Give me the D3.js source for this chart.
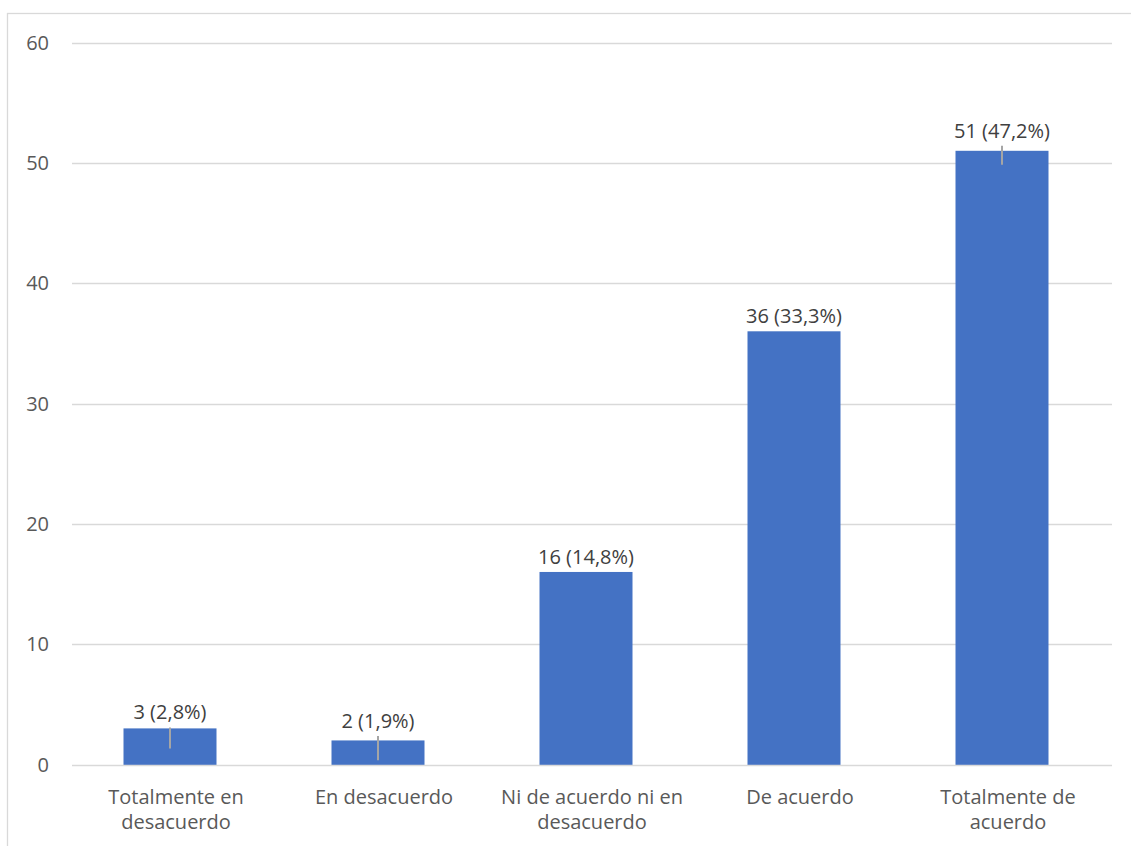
<!DOCTYPE html>
<html>
<head>
<meta charset="utf-8">
<script src="https://cdn.jsdelivr.net/npm/d3@7"></script>
<style>
  html, body { margin: 0; padding: 0; background: #ffffff; }
  svg { display: block; font-family: "Open Sans", "Noto Sans", sans-serif; }
</style>
</head>
<body>
<svg id="chart" width="1131" height="846"></svg>
<script>
// Survey responses: count per answer and its share of the total
const categories = [
  "Totalmente en desacuerdo",
  "En desacuerdo",
  "Ni de acuerdo ni en desacuerdo",
  "De acuerdo",
  "Totalmente de acuerdo"
];
const counts = [3, 2, 16, 36, 51];
const percents = ["2,8%", "1,9%", "14,8%", "33,3%", "47,2%"];
// Error bar extents below / above each count
const errMinus = [1.66, 1.64, 0, 0, 1.16];
const errPlus = [0.08, 0.36, 0, 0, 0.42];
const yTicks = [0, 10, 20, 30, 40, 50, 60];

const svg = d3.select("#chart");
const W = 1131, H = 846;
const plot = { left: 72, right: 1112, top: 42.5, bottom: 764.5 };

// Outer chart frame
svg.append("rect")
  .attr("x", 7.5).attr("y", 13.5)
  .attr("width", 1140).attr("height", 900)
  .attr("fill", "none").attr("stroke", "#d9d9d9").attr("stroke-width", 1.3);

const x = d3.scaleBand().domain(categories).range([plot.left, plot.right]);
const y = d3.scaleLinear().domain([0, 60]).range([plot.bottom, plot.top]);
const barW = 93;
const barShift = -6;
const cx = c => x(c) + x.bandwidth() / 2 + barShift;

// Horizontal gridlines
svg.append("g").selectAll("line")
  .data(yTicks.filter(t => t !== 0))
  .join("line")
  .attr("x1", plot.left).attr("x2", plot.right)
  .attr("y1", d => Math.round(y(d)) + 0.5).attr("y2", d => Math.round(y(d)) + 0.5)
  .attr("stroke", "#d9d9d9").attr("stroke-width", 1.3);

// Y axis tick labels
svg.append("g").selectAll("text")
  .data(yTicks)
  .join("text")
  .attr("x", 49)
  .attr("y", d => y(d))
  .attr("dy", "0.36em")
  .attr("text-anchor", "end")
  .attr("font-size", 20)
  .attr("fill", "#595959")
  .text(d => d);

const rows = categories.map((c, i) => ({
  c, v: counts[i], p: percents[i], lo: errMinus[i], hi: errPlus[i]
}));

// Bars
svg.append("g").selectAll("rect")
  .data(rows)
  .join("rect")
  .attr("x", d => cx(d.c) - barW / 2)
  .attr("width", barW)
  .attr("y", d => y(d.v))
  .attr("height", d => y(0) - y(d.v) + 1.5)
  .attr("fill", "#4472c4");

// Baseline drawn over the bar bottoms
svg.append("line")
  .attr("x1", plot.left).attr("x2", plot.right)
  .attr("y1", Math.round(y(0)) + 0.5).attr("y2", Math.round(y(0)) + 0.5)
  .attr("stroke", "#d9d9d9").attr("stroke-width", 1.3);

// Error bars
svg.append("g").selectAll("line")
  .data(rows.filter(d => d.lo + d.hi > 0))
  .join("line")
  .attr("x1", d => cx(d.c)).attr("x2", d => cx(d.c))
  .attr("y1", d => y(d.v - d.lo)).attr("y2", d => y(d.v + d.hi))
  .attr("stroke", "#a5a5a5").attr("stroke-width", 2);

// Value labels above each bar
svg.append("g").selectAll("text")
  .data(rows)
  .join("text")
  .attr("x", d => cx(d.c))
  .attr("y", d => y(d.v + d.hi) - 8)
  .attr("text-anchor", "middle")
  .attr("font-size", 20)
  .attr("fill", "#404040")
  .text(d => `${d.v} (${d.p})`);

// Category labels, wrapped to fit the band
const catG = svg.append("g");
function wrapWords(text, maxW) {
  const probe = catG.append("text").attr("font-size", 20);
  const words = text.split(" ");
  const lines = [];
  let cur = "";
  words.forEach(w => {
    const trial = cur ? cur + " " + w : w;
    probe.text(trial);
    if (probe.node().getComputedTextLength() > maxW && cur) {
      lines.push(cur);
      cur = w;
    } else {
      cur = trial;
    }
  });
  if (cur) lines.push(cur);
  probe.remove();
  return lines;
}
categories.forEach(c => {
  const lines = wrapWords(c, 200);
  const t = catG.append("text")
    .attr("text-anchor", "middle")
    .attr("font-size", 20)
    .attr("fill", "#595959");
  lines.forEach((ln, k) => {
    t.append("tspan")
      .attr("x", x(c) + x.bandwidth() / 2)
      .attr("y", y(0) + 39 + k * 25)
      .text(ln);
  });
});
</script>
</body>
</html>
